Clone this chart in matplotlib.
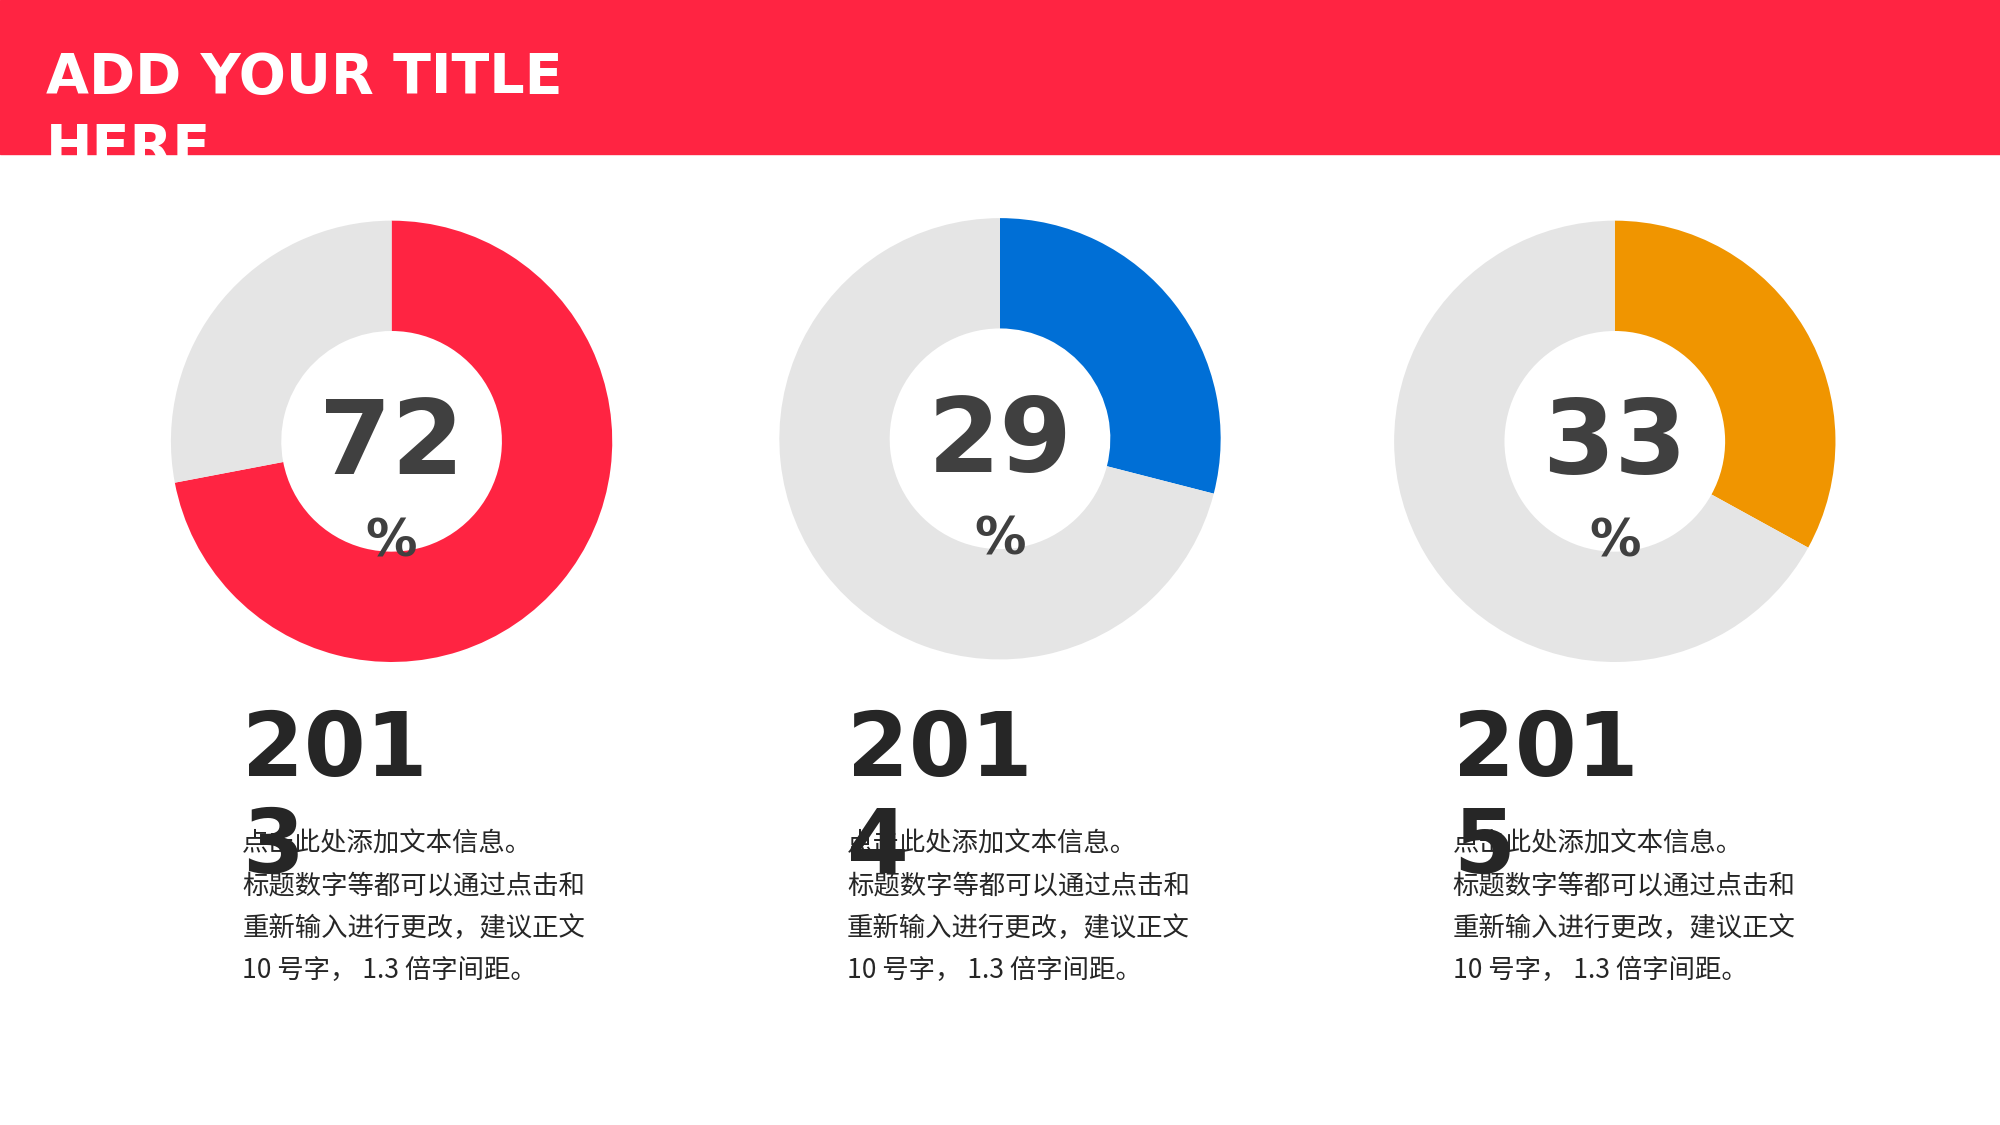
import matplotlib
matplotlib.use("Agg")
import matplotlib.pyplot as plt
from matplotlib.patches import Rectangle

title = "ADD YOUR TITLE\nHERE"
values = [72, 29, 33]
years = ["201\n3", "201\n4", "201\n5"]
colors = ["#FF2442", "#006FD6", "#F09500"]
body = "点击此处添加文本信息。\n标题数字等都可以通过点击和\n重新输入进行更改，建议正文\n10 号字， 1.3 倍字间距。"

W, H = 1568, 882
centers = [(307, 346), (784, 344), (1266, 346)]
text_x = [190, 664, 1139]
R = 173

fig = plt.figure(figsize=(20, 11.25), dpi=100)
ax = fig.add_axes([0, 0, 1, 1])
ax.set_xlim(0, W); ax.set_ylim(H, 0); ax.axis("off")

band = Rectangle((0, 0), W, 121, color="#FF2442", zorder=1)
ax.add_patch(band)
t = ax.text(36, 40, title, color="white", fontsize=40, fontweight="bold",
            va="top", ha="left", linespacing=1.4, family="DejaVu Sans", zorder=2)
t.set_clip_path(band)

for i, (v, (cx, cy)) in enumerate(zip(values, centers)):
    pa = fig.add_axes([(cx - R) / W, 1 - (cy + R) / H, 2 * R / W, 2 * R / H])
    pa.pie([v, 100 - v], colors=[colors[i], "#E5E5E5"], startangle=90,
           counterclock=False, wedgeprops=dict(width=0.5, linewidth=0))
    pa.set_xlim(-1, 1); pa.set_ylim(-1, 1)
    pa.set_aspect("equal")
    pa.text(0, -0.02, str(v), ha="center", va="center", fontsize=75,
            fontweight="bold", color="#404040")
    pa.text(0, -0.46, "%", ha="center", va="center", fontsize=37,
            fontweight="bold", color="#404040")
    x0 = text_x[i]
    ax.text(x0, 555, years[i], fontsize=64, fontweight="bold", color="#262626",
            va="top", ha="left", linespacing=1.15, zorder=2)
    ax.text(x0, 651, body, fontsize=19, color="#262626", va="top", ha="left",
            linespacing=1.72, family=["Noto Sans CJK SC", "DejaVu Sans"], zorder=3)

fig.savefig("out.png", dpi=100)
